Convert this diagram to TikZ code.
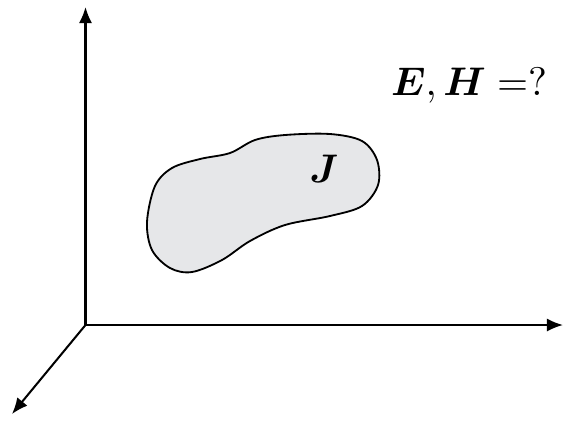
\documentclass[tikz,border=0pt]{standalone}
\usepackage{amsmath}
\usepackage{amsfonts}
\usepackage{bm}
\usetikzlibrary{arrows.meta, positioning}
\definecolor{blobgray}{RGB}{230,231,233}
\tikzset{
    axis/.style={-{Latex[length=4.4pt,width=3.6pt]}},
    blob/.style={fill=blobgray, draw=black, line width=0.5pt},
    label/.style={anchor=base}
}
\newcommand{\biglabel}[1]{\scalebox{1.09}{#1}}
\begin{document}
\begin{tikzpicture}[x=0.273pt, y=-0.273pt, line width=0.55pt]
        \useasboundingbox (0,0) rectangle (564,425);
        \coordinate (O) at (85.5,325);
        \coordinate (ytip) at (85.5,7);
        \coordinate (xtip) at (563,325);
        \coordinate (ztip) at (12,414);
        \draw[axis] (O) -- (ytip);
        \draw[axis] (O) -- (xtip);
        \draw[axis] (O) -- (ztip);
        \draw[blob] plot[smooth cycle, tension=0.55] coordinates {
            (147,222) (152,250) (170,268) (192,272) (222,260) (250,241)
            (285,225) (330,216) (362,206) (378,185) (377,160) (362,141)
            (330,134) (285,135) (255,140) (230,153) (200,159) (172,168)
            (155,186)};
        \node[label] (J) at (324,182) {\biglabel{$\bm{J}$}};
        \node[label] (EH) at (469,95) {\biglabel{$\bm{E}, \bm{H} =$?}};
    \end{tikzpicture}
\end{document}
